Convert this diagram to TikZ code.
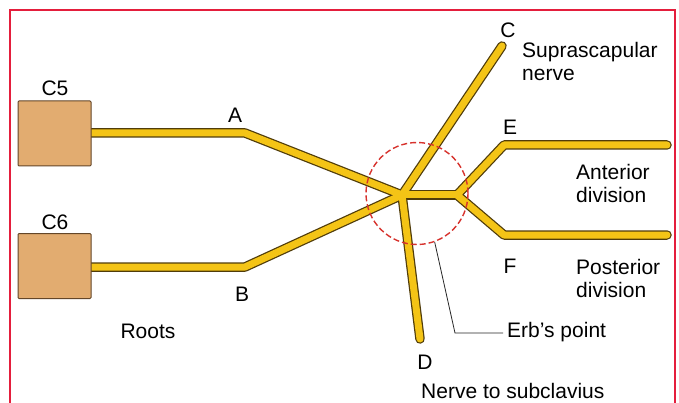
\documentclass[tikz,border=0pt]{standalone}
\usepackage{fontspec}
\setmainfont{Liberation Sans}
\definecolor{nerveyel}{RGB}{244,196,22}
\definecolor{nerveout}{RGB}{80,60,10}
\definecolor{boxfill}{RGB}{226,172,112}
\definecolor{boxout}{RGB}{100,70,40}
\definecolor{framered}{RGB}{228,30,60}
\definecolor{circred}{RGB}{215,50,45}
\begin{document}
\begin{tikzpicture}[x=1pt,y=-1pt,
  nerveo/.style={draw=nerveout,line width=9.5pt,line cap=round,line join=round},
  nervei/.style={draw=nerveyel,line width=7pt,line cap=round,line join=round},
  rootbox/.style={draw=boxout,line width=1pt,fill=boxfill,minimum width=73pt,minimum height=65pt,inner sep=0pt,rounded corners=1pt},
  lbl/.style={inner sep=0pt,font=\fontsize{21}{23}\selectfont},
  lbll/.style={lbl,anchor=west,align=left}]
\useasboundingbox (0,0) rectangle (679,403);
\fill[white] (0,0) rectangle (679,403);
% frame
\draw[framered,line width=2pt] (10,410) -- (10,10) -- (675,10) -- (675,410);
% coordinates
\coordinate (a0) at (91,133);
\coordinate (ka) at (245,133);
\coordinate (b0) at (91,267);
\coordinate (kb) at (245,267);
\coordinate (j1) at (402,195);
\coordinate (j2) at (457,195);
\coordinate (cend) at (502,46);
\coordinate (dend) at (420,339);
\coordinate (ke) at (504,145);
\coordinate (eend) at (667,145);
\coordinate (kf) at (504,235);
\coordinate (fend) at (667,235);
% nerves: outline pass, then fill pass
\foreach \s in {nerveo,nervei}{
  \draw[\s] (a0) -- (ka) -- (j1);
  \draw[\s] (b0) -- (kb) -- (j1);
  \draw[\s] (j1) -- (cend);
  \draw[\s] (j1) -- (dend);
  \draw[\s] (j1) -- (j2);
  \draw[\s] (j2) -- (ke) -- (eend);
  \draw[\s] (j2) -- (kf) -- (fend);
}
% root boxes
\node[rootbox] (c5) at (54.5,133.5) {};
\node[rootbox] (c6) at (54.5,266) {};
% Erb's circle
\node[draw=circred,dash pattern=on 6pt off 3pt,line width=1.4pt,circle,minimum size=102pt,inner sep=0pt] (erb) at (417,193.5) {};
% labels
\node[lbl] (lc5) at (55,88) {C5};
\node[lbl] (lc6) at (55,222) {C6};
\node[lbl] (la) at (235,115) {A};
\node[lbl] (lb) at (242,294) {B};
\node[lbl] (lc) at (508,30) {C};
\node[lbl] (ld) at (425,362) {D};
\node[lbl] (le) at (510,127) {E};
\node[lbl] (lf) at (510,266) {F};
\node[lbll] (supra) at (522,61.5) {Suprascapular\\nerve};
\node[lbll] (ant) at (576,183.5) {Anterior\\division};
\node[lbll] (post) at (576,278) {Posterior\\division};
\node[lbl] (roots) at (148,331) {Roots};
\node[lbll] (erbtxt) at (507,332) {Erb’s point};
\node[lbll] (subcl) at (421,391) {Nerve to subclavius};
% leader
\coordinate (lk) at (455,333);
\draw[black!85,line width=0.8pt,shorten >=4pt] (erb.-70) -- (lk) -- (erbtxt.west |- lk);
\end{tikzpicture}
\end{document}
